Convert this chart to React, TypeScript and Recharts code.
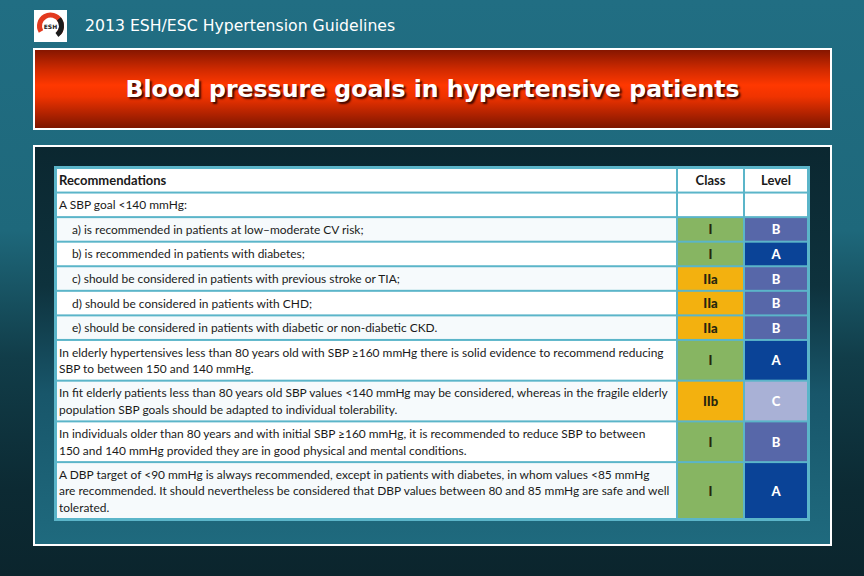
import { BarChart, Bar, XAxis, YAxis } from "recharts";

// table content, row by row (row 0 is the header)
const rowLines = [1, 1, 1, 1, 1, 1, 1, 2, 2, 2, 3];

const recommendations: string[][] = [
  ["Recommendations"],
  ["A SBP goal <140 mmHg:"],
  ["a) is recommended in patients at low–moderate CV risk;"],
  ["b) is recommended in patients with diabetes;"],
  ["c) should be considered in patients with previous stroke or TIA;"],
  ["d) should be considered in patients with CHD;"],
  ["e) should be considered in patients with diabetic or non-diabetic CKD."],
  [
    "In elderly hypertensives less than 80 years old with SBP ≥160 mmHg there is solid evidence to recommend reducing",
    "SBP to between 150 and 140 mmHg.",
  ],
  [
    "In fit elderly patients less than 80 years old SBP values <140 mmHg may be considered, whereas in the fragile elderly",
    "population SBP goals should be adapted to individual tolerability.",
  ],
  [
    "In individuals older than 80 years and with initial SBP ≥160 mmHg, it is recommended to reduce SBP to between",
    "150 and 140 mmHg provided they are in good physical and mental conditions.",
  ],
  [
    "A DBP target of <90 mmHg is always recommended, except in patients with diabetes, in whom values <85 mmHg",
    "are recommended. It should nevertheless be considered that DBP values between 80 and 85 mmHg are safe and well",
    "tolerated.",
  ],
];

const classes = ["Class", "", "I", "I", "IIa", "IIa", "IIa", "I", "IIb", "I", "I"];
const levels = ["Level", "", "B", "A", "B", "B", "B", "A", "C", "B", "A"];

const CLASS_COLORS: Record<string, string> = { I: "#87b562", IIa: "#f3b10f", IIb: "#f3b10f" };
const LEVEL_COLORS: Record<string, string> = { A: "#0a4397", B: "#5767a9", C: "#a9b1d6" };
const BORDER = "#5bb5c9";
const TABLE_FONT = "Lato, 'Noto Sans', sans-serif";

// each row is one stacked segment; its size is its line count plus some padding
const PAD_UNITS = 0.52;
const tableRow: Record<string, number | string> = { name: "table" };
rowLines.forEach((n, i) => {
  tableRow[`r${i}`] = n + PAD_UNITS;
});
const totalUnits = rowLines.reduce((s, n) => s + n + PAD_UNITS, 0);

type Column = "rec" | "class" | "level";

const makeCell = (column: Column, row: number) => (props: any) => {
  const { x, y, width, height } = props;
  const top = Math.min(y, y + height);
  const h = Math.abs(height);
  const header = row === 0;

  if (column === "rec") {
    const lines = recommendations[row];
    const lineH = 16.5;
    const startY = top + h / 2 - ((lines.length - 1) * lineH) / 2;
    const indent = /^[a-e]\)/.test(lines[0]) ? 13 : 0;
    return (
      <g>
        <rect x={x + 1} y={top + 1} width={width - 2} height={h - 2} fill={row >= 2 && row % 2 === 0 ? "#f6fafc" : "#ffffff"} />
        {lines.map((t, k) => (
          <text
            key={k}
            x={x + 3 + indent}
            y={startY + k * lineH}
            dominantBaseline="central"
            fontFamily={TABLE_FONT}
            fontSize={header ? 13 : 11.95}
            fontWeight={header ? 700 : 400}
            fill="#1a1a1a"
          >
            {t}
          </text>
        ))}
      </g>
    );
  }

  const value = column === "class" ? classes[row] : levels[row];
  const colors = column === "class" ? CLASS_COLORS : LEVEL_COLORS;
  const fill = header || !value ? "#ffffff" : colors[value];
  const textColor = header ? "#1a1a1a" : column === "class" ? "#26260e" : "#ffffff";
  return (
    <g>
      <rect x={x + 1} y={top + 1} width={width - 2} height={h - 2} fill={fill} />
      {value && (
        <text
          x={x + width / 2}
          y={top + h / 2}
          textAnchor="middle"
          dominantBaseline="central"
          fontFamily={TABLE_FONT}
          fontSize={13}
          fontWeight={header ? 700 : 900}
          fill={textColor}
        >
          {value}
        </text>
      )}
    </g>
  );
};

function ColumnChart({ column, width }: { column: Column; width: number }) {
  return (
    <BarChart
      width={width}
      height={351}
      data={[tableRow]}
      margin={{ top: 0, right: 0, bottom: 0, left: 0 }}
      barCategoryGap={0}
    >
      <XAxis dataKey="name" hide />
      <YAxis type="number" domain={[0, totalUnits]} reversed hide />
      {rowLines.map((_, i) => (
        <Bar
          key={i}
          dataKey={`r${i}`}
          stackId="t"
          isAnimationActive={false}
          shape={makeCell(column, i)}
        />
      ))}
    </BarChart>
  );
}

function Logo() {
  return (
    <svg width={33} height={32} style={{ position: "absolute", left: 34, top: 10 }}>
      <rect x={0} y={0} width={33} height={32} fill="#ffffff" />
      <circle cx={16.5} cy={16} r={11} fill="none" stroke="#e33a1f" strokeWidth={5} strokeDasharray="48 21" transform="rotate(150 16.5 16)" />
      <circle cx={16.5} cy={16} r={11} fill="none" stroke="#1b1b1b" strokeWidth={5} strokeDasharray="18 51" transform="rotate(-40 16.5 16)" />
      <text x={16.5} y={18.5} textAnchor="middle" fontSize={6} fontWeight={700} fontFamily="'DejaVu Sans', sans-serif" fill="#222">
        ESH
      </text>
    </svg>
  );
}

export default function App() {
  return (
    <div
      style={{
        position: "absolute",
        left: 0,
        top: 0,
        width: 864,
        height: 576,
        overflow: "hidden",
        background: "linear-gradient(180deg, #216e83 0%, #1e687b 40%, #113d49 62%, #0c2a33 85%, #0b252d 100%)",
      }}
    >
      <Logo />
      <div
        style={{
          position: "absolute",
          left: 85,
          top: 15,
          fontFamily: "'DejaVu Sans', Verdana, sans-serif",
          fontSize: 15.7,
          lineHeight: "22px",
          color: "#ffffff",
        }}
      >
        2013 ESH/ESC Hypertension Guidelines
      </div>

      <div
        style={{
          position: "absolute",
          left: 33,
          top: 48,
          width: 799,
          height: 82,
          boxSizing: "border-box",
          border: "2px solid #ffffff",
          background: "linear-gradient(180deg, #861600 0%, #d02a00 25%, #ff3800 45%, #ef3300 60%, #b02200 82%, #7d1600 100%)",
          display: "flex",
          alignItems: "center",
          justifyContent: "center",
          fontFamily: "'DejaVu Sans', Verdana, sans-serif",
          fontWeight: 700,
          fontSize: 23.6,
          color: "#ffffff",
          textShadow: "2px 2px 2px #3a0800",
        }}
      >
        Blood pressure goals in hypertensive patients
      </div>

      <div
        style={{
          position: "absolute",
          left: 33,
          top: 145,
          width: 799,
          height: 401,
          boxSizing: "border-box",
          border: "2px solid #ffffff",
          background: "linear-gradient(180deg, #0b2730 0%, #0e323d 35%, #18566a 62%, #1f6a7e 100%)",
        }}
      />

      <div
        style={{
          position: "absolute",
          left: 54,
          top: 166,
          width: 756,
          height: 355,
          boxSizing: "border-box",
          padding: 2,
          background: BORDER,
          display: "flex",
        }}
      >
        <ColumnChart column="rec" width={621} />
        <ColumnChart column="class" width={67} />
        <ColumnChart column="level" width={64} />
      </div>
    </div>
  );
}
